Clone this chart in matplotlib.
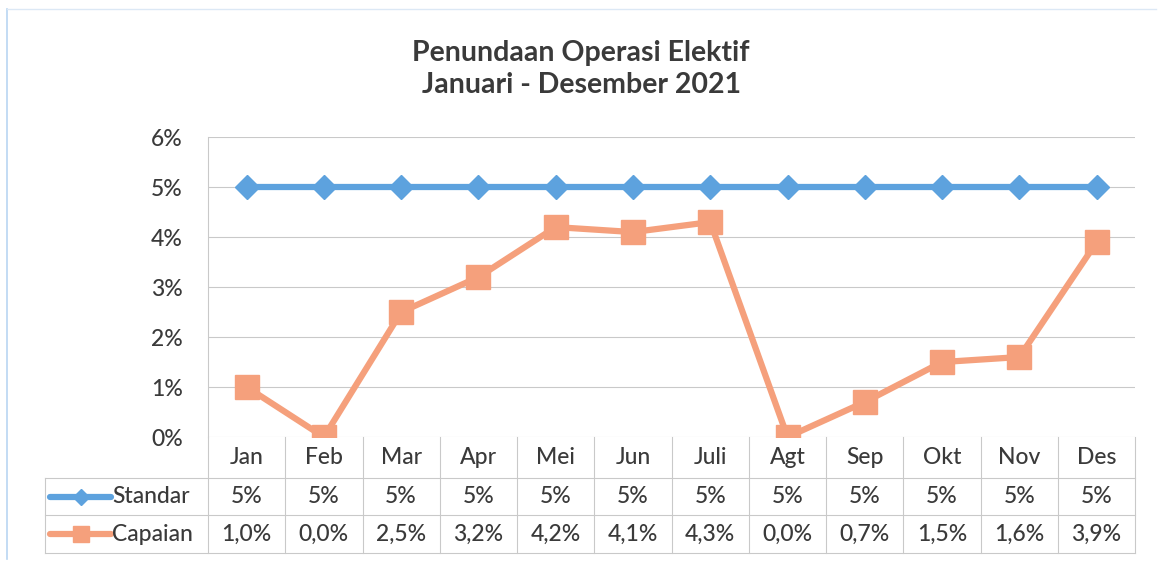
import matplotlib
matplotlib.use("Agg")
import matplotlib.pyplot as plt
import matplotlib.ticker as mticker
from matplotlib.lines import Line2D
from matplotlib.transforms import blended_transform_factory

# ---------------------------------------------------------------------------
# Data
# ---------------------------------------------------------------------------
MONTHS = ["Jan", "Feb", "Mar", "Apr", "Mei", "Jun", "Juli", "Agt", "Sep", "Okt", "Nov", "Des"]
STANDAR = [5, 5, 5, 5, 5, 5, 5, 5, 5, 5, 5, 5]
CAPAIAN = [1.0, 0.0, 2.5, 3.2, 4.2, 4.1, 4.3, 0.0, 0.7, 1.5, 1.6, 3.9]
STANDAR_LABELS = ["5%"] * 12
CAPAIAN_LABELS = ["1,0%", "0,0%", "2,5%", "3,2%", "4,2%", "4,1%", "4,3%",
                  "0,0%", "0,7%", "1,5%", "1,6%", "3,9%"]

BLUE = "#5DA2DE"
ORANGE = "#F5A07C"
TEXT = "#3A3A3A"
GRID = "#C9C9C9"
FONT = ["Lato", "DejaVu Sans"]
FS = 16.5
FW = "medium"

plt.rcParams["font.family"] = FONT

fig = plt.figure(figsize=(11.62, 5.68), dpi=100)
ax = fig.add_axes([0.179, 0.2306, 0.798, 0.528])

xs = list(range(len(MONTHS)))

ax.plot(xs, STANDAR, color=BLUE, lw=4.5, marker="D", ms=12, mec=BLUE, zorder=3)
ax.plot(xs, CAPAIAN, color=ORANGE, lw=4.5, marker="s", ms=17, mec=ORANGE, zorder=4)

ax.set_xlim(-0.5, len(MONTHS) - 0.5)
ax.set_ylim(0, 6)
ax.yaxis.set_major_locator(mticker.MultipleLocator(1))
ax.yaxis.set_major_formatter(mticker.FormatStrFormatter("%d%%"))
ax.tick_params(axis="y", length=0, pad=18, labelsize=FS, labelcolor=TEXT)
for lab in ax.get_yticklabels():
    lab.set_fontweight(FW)
ax.set_xticks([])
ax.grid(axis="y", color=GRID, lw=0.8, zorder=0)
for s in ["top", "right", "bottom"]:
    ax.spines[s].set_visible(False)
ax.spines["left"].set_color(GRID)
ax.spines["left"].set_linewidth(0.8)

fig.suptitle("Penundaan Operasi Elektif\nJanuari - Desember 2021",
             y=0.93, fontsize=20.5, fontweight="bold", color=TEXT, linespacing=1.3)

# ---------------------------------------------------------------------------
# Data table below the plot
# ---------------------------------------------------------------------------
tr = blended_transform_factory(ax.transData, ax.transAxes)
row_edges = [0.0, -0.137, -0.26, -0.387]
left_edge = -2.61
right_edge = len(MONTHS) - 0.5

# horizontal lines
for y in row_edges[1:]:
    ax.plot([left_edge, right_edge], [y, y], transform=tr, color=GRID, lw=0.8, clip_on=False)
# vertical lines
for i in range(len(MONTHS) + 1):
    xv = i - 0.5
    ax.plot([xv, xv], [row_edges[0], row_edges[-1]], transform=tr, color=GRID, lw=0.8, clip_on=False)
ax.plot([left_edge, left_edge], [row_edges[1], row_edges[-1]], transform=tr,
        color=GRID, lw=0.8, clip_on=False)

row_mid = [(row_edges[k] + row_edges[k + 1]) / 2 for k in range(3)]
for i, m in enumerate(MONTHS):
    ax.text(i, row_mid[0], m, transform=tr, ha="center", va="center",
            fontsize=FS, color=TEXT, fontweight=FW)
    ax.text(i, row_mid[1], STANDAR_LABELS[i], transform=tr, ha="center", va="center",
            fontsize=FS, color=TEXT, fontweight=FW)
    ax.text(i, row_mid[2], CAPAIAN_LABELS[i], transform=tr, ha="center", va="center",
            fontsize=FS, color=TEXT, fontweight=FW)

# legend keys inside the table
for k, (name, col, mk, ms) in enumerate([("Standar", BLUE, "D", 8), ("Capaian", ORANGE, "s", 12)]):
    y = row_mid[k + 1]
    ax.add_line(Line2D([left_edge + 0.07, left_edge + 0.86], [y, y], transform=tr,
                       color=col, lw=4.5, solid_capstyle="round", clip_on=False))
    ax.add_line(Line2D([left_edge + 0.465], [y], transform=tr, marker=mk, ms=ms,
                       color=col, mec=col, clip_on=False))
    ax.text(left_edge + 0.87, y, name, transform=tr, ha="left", va="center",
            fontsize=FS, color=TEXT, fontweight=FW)

# faint outer border of the chart object
fig.add_artist(Line2D([0.006, 0.006], [0.015, 0.985], transform=fig.transFigure,
                      color="#B9D6F2", lw=1.2))
fig.add_artist(Line2D([0.006, 0.995], [0.985, 0.985], transform=fig.transFigure,
                      color="#DCE8F5", lw=1.0))

fig.savefig("out.png", dpi=100)
